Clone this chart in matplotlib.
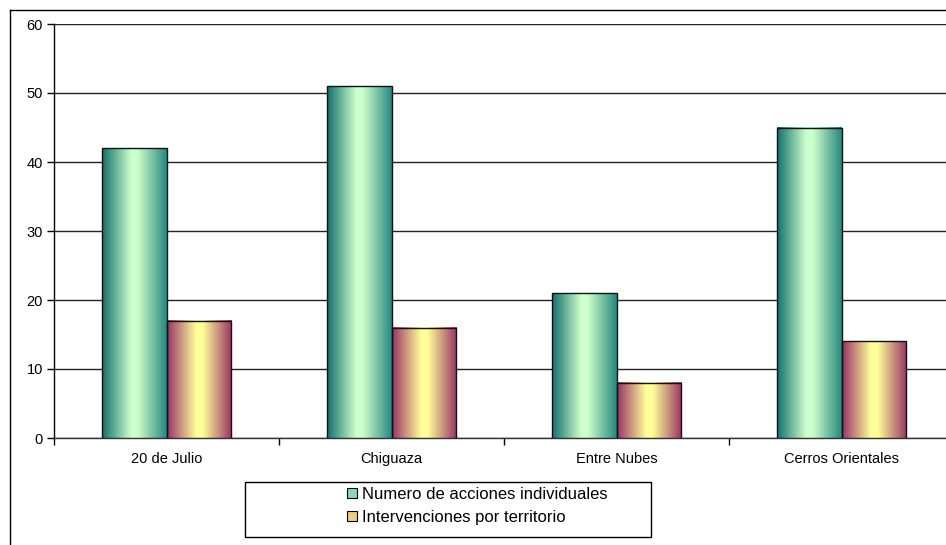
import numpy as np
import matplotlib
matplotlib.use("Agg")
import matplotlib.pyplot as plt
from matplotlib.colors import LinearSegmentedColormap
from matplotlib.patches import Rectangle, Patch
from matplotlib.lines import Line2D

plt.rcParams['font.family'] = ['Liberation Sans', 'DejaVu Sans']

categories = ["20 de Julio", "Chiguaza", "Entre Nubes", "Cerros Orientales"]
acciones = [42, 51, 21, 45]
intervenciones = [17, 16, 8, 14]
series_names = ["Numero de acciones individuales", "Intervenciones por territorio"]
y_ticks = [0, 10, 20, 30, 40, 50, 60]

W, H = 946, 545
fig = plt.figure(figsize=(W / 100, H / 100), dpi=100)
ax = fig.add_axes([54 / W, 1 - 438 / H, 900 / W, (438 - 24) / H])

green_cmap = LinearSegmentedColormap.from_list(
    "g", [(0.0, "#12706a"), (0.45, "#ccffcc"), (0.55, "#ccffcc"), (1.0, "#27887f")])
yellow_cmap = LinearSegmentedColormap.from_list(
    "y", [(0.0, "#993366"), (0.45, "#ffff99"), (0.55, "#ffff99"), (1.0, "#993366")])

x = np.arange(len(categories))
bw = 1 / 3.5
grad = np.linspace(0, 1, 256).reshape(1, -1)

def gradient_bars(xs, vals, cmap):
    bars = ax.bar(xs, vals, width=bw, align='edge', facecolor='none',
                  edgecolor='#111111', linewidth=1.0, zorder=4)
    for b in bars:
        x0, w, h = b.get_x(), b.get_width(), b.get_height()
        ax.imshow(grad, cmap=cmap, aspect='auto', extent=(x0, x0 + w, 0, h),
                  zorder=3, interpolation='bilinear')
    return bars

gradient_bars(x - bw, acciones, green_cmap)
gradient_bars(x, intervenciones, yellow_cmap)

ax.set_xlim(-0.5, len(categories) - 0.5)
ax.set_ylim(0, 60)
ax.set_yticks(y_ticks)
ax.set_xticks(x)
ax.set_xticklabels(categories)
ax.set_xticks(np.arange(len(categories) + 1) - 0.5, minor=True)
ax.tick_params(axis='x', which='major', length=0, pad=10, labelsize=10.5)
ax.tick_params(axis='x', which='minor', length=5, width=1, direction='out')
ax.tick_params(axis='y', length=5, width=1, direction='out', pad=3, labelsize=10.5)
ax.yaxis.grid(True, color='#222222', linewidth=1)
ax.set_axisbelow(True)
for s in ['top', 'right']:
    ax.spines[s].set_visible(False)
ax.spines['left'].set_linewidth(1)
ax.spines['bottom'].set_linewidth(1)
ax.spines['bottom'].set_color('#333333')

# outer chart frame (left and top)
fig.add_artist(Line2D([10 / W, 10 / W], [0, 1 - 10 / H], color='black', lw=1,
                      transform=fig.transFigure))
fig.add_artist(Line2D([10 / W, 1], [1 - 10 / H, 1 - 10 / H], color='black', lw=1,
                      transform=fig.transFigure))

# legend box
fig.add_artist(Rectangle((245 / W, 1 - 537 / H), 406 / W, 55 / H, fill=False,
                         edgecolor='black', lw=1, transform=fig.transFigure))
handles = [Patch(facecolor="#8fd6b4", edgecolor='black', lw=0.8),
           Patch(facecolor="#e8d080", edgecolor='black', lw=0.8)]
fig.legend(handles, series_names, loc='center left',
           bbox_to_anchor=(339 / W, 1 - 506 / H), frameon=False, fontsize=12,
           handlelength=0.55, handleheight=0.55, handletextpad=0.3,
           labelspacing=0.45, borderpad=0)

fig.savefig("out.png", dpi=100)
